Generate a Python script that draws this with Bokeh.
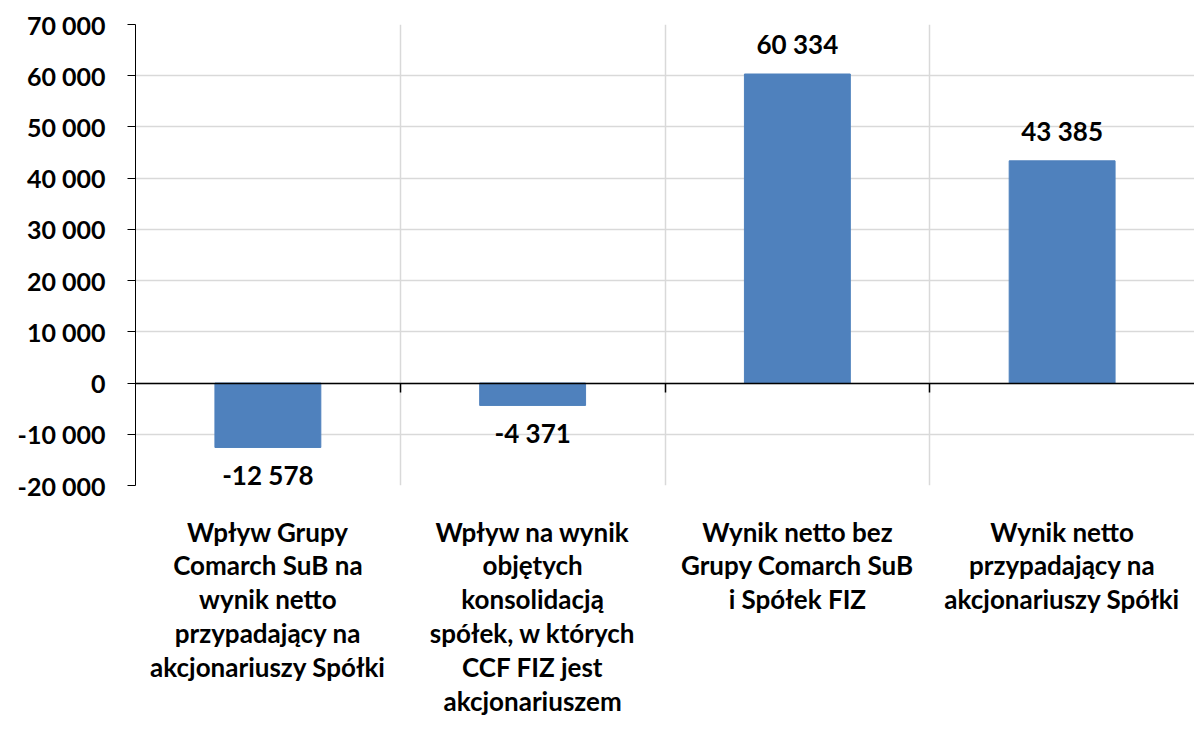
from bokeh.plotting import figure
from bokeh.models import ColumnDataSource, FixedTicker, LinearAxis, Range1d
from bokeh.embed import file_html
from bokeh.resources import INLINE
from bokeh.core.properties import value

categories = [
    "Wpływ Grupy\nComarch SuB na\nwynik netto\nprzypadający na\nakcjonariuszy Spółki",
    "Wpływ na wynik\nobjętych\nkonsolidacją\nspółek, w których\nCCF FIZ jest\nakcjonariuszem",
    "Wynik netto bez\nGrupy Comarch SuB\ni Spółek FIZ",
    "Wynik netto\nprzypadający na\nakcjonariuszy Spółki",
]
values = [-12578, -4371, 60334, 43385]
y_ticks = [-20000, -10000, 0, 10000, 20000, 30000, 40000, 50000, 60000, 70000]

FONT = "Lato"
BAR = "#4F81BD"

def fmt(v):
    return f"{v:,}".replace(",", " ")

n = len(categories)
xs = [i + 0.5 for i in range(n)]
src = ColumnDataSource(dict(
    x=xs,
    top=values,
    label=[fmt(v) for v in values],
    yoff=[-30 if v >= 0 else 28 for v in values],
))

p = figure(frame_width=1059, frame_height=461, output_backend="svg", toolbar_location=None,
           x_range=Range1d(0, n), y_range=Range1d(y_ticks[0], y_ticks[-1]),
           min_border_left=135, min_border_right=0, min_border_top=24,
           min_border_bottom=230)
p.outline_line_color = None
p.background_fill_color = "white"
p.border_fill_color = "white"

p.vbar(x="x", top="top", bottom=0, width=0.4, source=src,
       fill_color=BAR, line_color=BAR)

p.text(x="x", y="top", text="label", source=src, y_offset="yoff",
       text_align="center", text_baseline="middle",
       text_font=value(FONT), text_font_style="bold", text_font_size="26px",
       text_color="black")

# y axis
ya = p.yaxis[0]
ya.ticker = FixedTicker(ticks=y_ticks)
ya.major_label_overrides = {v: fmt(v) for v in y_ticks}
ya.major_label_text_font = FONT
ya.major_label_text_font_style = "bold"
ya.major_label_text_font_size = "25px"
ya.major_label_text_color = "black"
ya.major_label_standoff = 22
ya.major_tick_out = 8
ya.major_tick_in = 0
ya.minor_tick_line_color = None
ya.axis_line_color = "black"
ya.major_tick_line_color = "black"

# x axis with category labels
xa = p.xaxis[0]
xa.ticker = FixedTicker(ticks=xs)
xa.major_label_overrides = {x: c for x, c in zip(xs, categories)}
xa.major_label_text_font = FONT
xa.major_label_text_font_style = "bold"
xa.major_label_text_font_size = "26px"
xa.major_label_text_color = "black"
xa.major_label_text_line_height = 1.06
xa.major_label_standoff = 24
xa.axis_line_color = None
xa.major_tick_line_color = None
xa.minor_tick_line_color = None

# zero line axis with boundary ticks
boundaries = list(range(1, n))
za = LinearAxis(fixed_location=0, ticker=FixedTicker(ticks=boundaries),
                major_tick_in=9, major_tick_out=0,
                major_label_overrides={b: "" for b in boundaries},
                major_label_standoff=0,
                axis_line_color="black", axis_line_width=1.5,
                major_tick_line_color="black", major_tick_line_width=1.5,
                minor_tick_line_color=None)
p.add_layout(za, "above")

p.ygrid.ticker = FixedTicker(ticks=y_ticks)
p.ygrid.grid_line_color = "#d9d9d9"
p.ygrid.grid_line_width = 1.5
p.xgrid.ticker = FixedTicker(ticks=boundaries)
p.xgrid.grid_line_color = "#d9d9d9"
p.xgrid.grid_line_width = 1.5

open("out.html", "w").write(file_html(p, INLINE))
